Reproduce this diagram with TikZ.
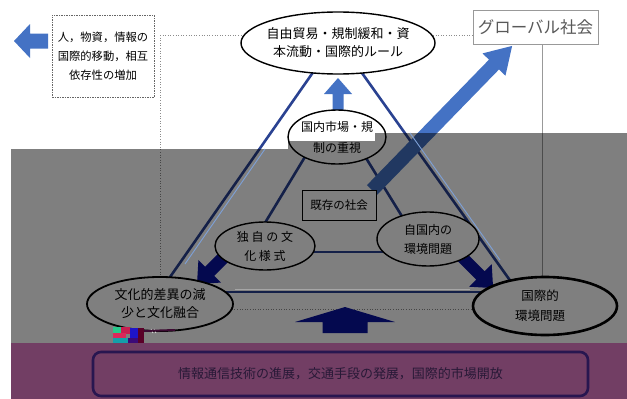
\documentclass[tikz,border=0pt]{standalone}
\usepackage{fontspec}
\setmainfont{Noto Sans CJK JP}
\usetikzlibrary{shapes.geometric}
\definecolor{steel}{RGB}{68,114,196}
\definecolor{linec}{RGB}{42,66,145}
\definecolor{ghost}{RGB}{125,160,215}
\definecolor{navyc}{RGB}{10,20,160}
\definecolor{purp}{RGB}{114,62,100}
\definecolor{boxline}{RGB}{40,22,80}
\definecolor{boxtext}{RGB}{40,25,55}
\definecolor{gA}{RGB}{40,200,140}
\definecolor{gB}{RGB}{200,30,80}
\definecolor{gC}{RGB}{30,20,200}
\definecolor{gD}{RGB}{90,0,40}
\definecolor{gE}{RGB}{220,40,90}
\definecolor{gF}{RGB}{20,160,170}
\definecolor{gG}{RGB}{60,10,120}
\definecolor{gH}{RGB}{60,10,50}
\newcommand{\barrow}[8]{%
  \begin{scope}[shift={(#1,#2)},rotate=#3]
    \fill[#8] (0,-#5/2) -- (#4-#7,-#5/2) -- (#4-#7,-#6/2) -- (#4,0) -- (#4-#7,#6/2) -- (#4-#7,#5/2) -- (0,#5/2) -- cycle;
  \end{scope}}
\begin{document}
\begin{tikzpicture}[x=1pt,y=-1pt,
  txt/.style={font=\fontsize{13}{18}\selectfont, align=center, inner sep=0pt},
  ell/.style={ellipse, draw=black, line width=1.4pt, fill=white, inner sep=0pt},
  tri/.style={draw=linec, line width=2.6pt},
  ghostline/.style={draw=ghost, line width=0.9pt},
  frame/.style={draw=black!45, line width=0.6pt, dotted}]
\useasboundingbox (0,0) rectangle (627,399);
\fill[white] (0,0) rectangle (627,399);

% frame
\coordinate (f1) at (160,35);
\coordinate (f2) at (473,35);
\coordinate (f3) at (542,44);
\coordinate (f4) at (542,309);
\coordinate (f5) at (160,309);
\draw[frame] (f1) -- (f2);
\draw[frame] (f1) -- (f5) -- (f4);
\draw[draw=black!40, line width=0.7pt] (f3) -- (f4);

% outer triangle
\coordinate (oa) at (337,38);
\coordinate (ol) at (154,300);
\coordinate (or) at (524,300);
\coordinate (bl) at (200,292);
\coordinate (br) at (500,292);
\draw[tri] (oa) -- (ol);
\draw[tri] (oa) -- (or);
\draw[tri] (bl) -- (br);

% inner triangle
\coordinate (il1) at (317,137);
\coordinate (il2) at (251,246);
\coordinate (ir1) at (353,137);
\coordinate (ir2) at (416,239);
\coordinate (ib1) at (265,252);
\coordinate (ib2) at (428,252);
\draw[tri] (il1) -- (il2);
\draw[tri] (ir1) -- (ir2);
\draw[tri] (ib1) -- (ib2);

% arrows
\barrow{338}{110}{90}{32}{11}{28}{16}{steel}
\barrow{48}{41}{180}{34}{15}{34}{16}{steel}
\barrow{372}{190}{45.8}{201}{14}{32}{26}{steel}
\barrow{226}{255}{225}{41}{13}{32}{18}{navyc}
\barrow{462}{257}{-45}{44}{12}{32}{18}{navyc}
\barrow{345}{333}{90}{26}{45}{100}{15}{navyc}

% ellipses
\node[ell, minimum width=194pt, minimum height=62pt] (top) at (338,43) {};
\node[txt] at (top.center) {自由貿易・規制緩和・資\\本流動・国際的ルール};
\node[ell, minimum width=98pt, minimum height=54pt] (mid) at (337,137) {};
\node[txt, font=\fontsize{12}{21}\selectfont] at (mid.center) {国内市場・規\\制の重視};
\node[ell, minimum width=100pt, minimum height=48pt] (own) at (265,246) {};
\node[txt, font=\fontsize{12}{19}\selectfont] at (own.center) {独 自 の 文\\化 様 式};
\node[ell, minimum width=102pt, minimum height=54pt] (dom) at (428,239) {};
\node[txt, font=\fontsize{12}{19}\selectfont] at (dom.center) {自国内の\\環境問題};
\node[ell, line width=1.8pt, minimum width=146pt, minimum height=54pt] (cul) at (160,304) {};
\node[txt] at (cul.center) {文化的差異の減\\少と文化融合};
\node[ell, line width=2.6pt, minimum width=144pt, minimum height=58pt] (env) at (545,306) {};
\node[txt, font=\fontsize{12.5}{20}\selectfont] at (540,306) {国際的\\環境問題};

% boxes
\node[draw=black, line width=0.8pt, fill=white, minimum width=74pt, minimum height=30pt, inner sep=0pt,
      font=\fontsize{11.5}{14}\selectfont] (old) at (339,205) {既存の社会};
\node[draw=black!40, line width=0.7pt, fill=white, minimum width=125pt, minimum height=34pt, inner sep=0pt,
      text=black!65, font=\fontsize{16.5}{20}\selectfont] (glob) at (535.5,27) {グローバル社会};
\node[draw=black!60, line width=0.7pt, dash pattern=on 1.5pt off 1pt, minimum width=102pt, minimum height=82pt,
      inner sep=0pt, align=center, font=\fontsize{11.3}{19}\selectfont] (side) at (103,56)
      {人，物資，情報の\\国際的移動，相互\\依存性の増加};

% gray overlay
\fill[black, opacity=0.5] (11,149) -- (288,149) -- (288,141) -- (375,141) -- (375,133) -- (627,133)
  -- (627,343) -- (11,343) -- cycle;

% ghost lines (image artefacts)
\coordinate (gl1) at (265,149);
\coordinate (gl2) at (185,264);
\coordinate (gr1) at (410,133);
\coordinate (gr2) at (500,260);
\coordinate (gb1) at (235,289);
\coordinate (gb2) at (470,289);
\draw[ghostline] (gl1) -- (gl2);
\draw[ghostline] (gr1) -- (gr2);
\draw[ghostline, draw=black!35] (gb1) -- (gb2);

% glitch
\fill[gA] (113,327) rectangle (121,333);
\fill[gB] (121,327) rectangle (130,334);
\fill[gC] (130,328) rectangle (138,338);
\fill[gD] (138,328) rectangle (144,343);
\fill[gE] (113,333) rectangle (126,338);
\fill[gF] (113,338) rectangle (128,343);
\fill[gG] (128,338) rectangle (138,343);
\draw[white, line width=0.6pt] (151,329) -- (153,333) (154,329) -- (156,333);
\draw[gH, line width=2pt] (144,331) -- (175,330);

% purple band
\fill[purp] (11,343) rectangle (627,399);
\node[draw=boxline, line width=2.6pt, rounded corners=8pt, minimum width=495pt, minimum height=44pt, inner sep=0pt,
      text=boxtext, font=\fontsize{13}{16}\selectfont] (base) at (340.5,374) {情報通信技術の進展，交通手段の発展，国際的市場開放};
\end{tikzpicture}
\end{document}
